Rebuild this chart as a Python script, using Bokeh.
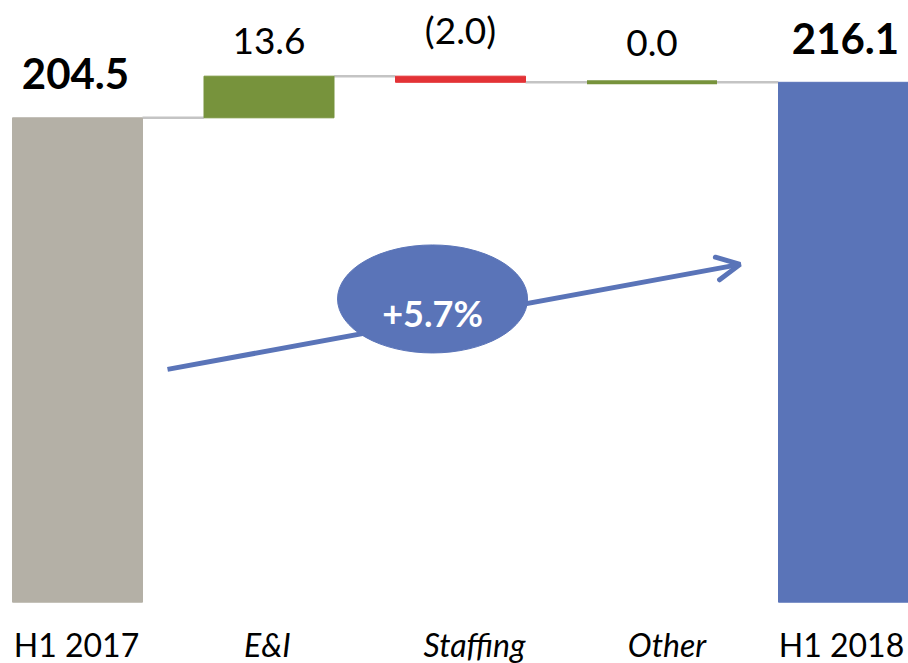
from bokeh.plotting import figure
from bokeh.models import ColumnDataSource, Range1d, Arrow, OpenHead
from bokeh.core.properties import value
from bokeh.embed import file_html
from bokeh.resources import INLINE

# ---- data -------------------------------------------------------------
categories = ["H1 2017", "E&I", "Staffing", "Other", "H1 2018"]
start_total = 204.5          # H1 2017
deltas = [13.6, -2.0, 0.0]   # E&I, Staffing, Other
end_total = 216.1            # H1 2018

# ---- styling ----------------------------------------------------------
W, H = 908, 663
FONT = "Lato"
GRAY = "#B4B0A6"
GREEN = "#77933C"
RED = "#E33236"
BLUE = "#5A74B8"
CONNECTOR = "#C4C4C4"

# horizontal scale: pixel centre of first category and category pitch
PITCH_PX = 191.5
FIRST_PX = 77.0
BAR_W = 130.0 / PITCH_PX

# vertical scale: value axis floor sits just above the category labels
PX_PER_UNIT = 3.06
FLOOR = 46.2
FLOOR_PX = 601.7
y_start = FLOOR - (H - FLOOR_PX) / PX_PER_UNIT
y_end = y_start + H / PX_PER_UNIT

# ---- waterfall geometry ----------------------------------------------
n = len(categories)
xs = list(range(n))
bottoms, tops, colors, line_w = [], [], [], []

bottoms.append(FLOOR); tops.append(start_total); colors.append(GRAY); line_w.append(1)
running = start_total
levels = [start_total]
for d in deltas:
    nxt = round(running + d, 1)
    bottoms.append(min(running, nxt))
    tops.append(max(running, nxt))
    colors.append(GREEN if d >= 0 else RED)
    line_w.append(4 if d == 0 else 1)
    running = nxt
    levels.append(running)
bottoms.append(FLOOR); tops.append(end_total); colors.append(BLUE); line_w.append(1)

bars = ColumnDataSource(dict(x=xs, bottom=bottoms, top=tops, color=colors, lw=line_w))

# connectors between neighbouring bars at the running total
conn = ColumnDataSource(dict(
    x0=[i + BAR_W / 2 for i in range(n - 1)],
    x1=[i + 1 - BAR_W / 2 for i in range(n - 1)],
    y=levels,
))

def fmt_delta(d):
    return f"({abs(d):.1f})" if d < 0 else f"{d:.1f}"

delta_lbl = ColumnDataSource(dict(
    x=[1, 2, 3],
    y=tops[1:4],
    text=[fmt_delta(d) for d in deltas],
    dy=[-35, -47, -39],
))
total_lbl = ColumnDataSource(dict(
    x=[0, n - 1],
    y=[start_total, end_total],
    text=[f"{start_total:.1f}", f"{end_total:.1f}"],
    dx=[-2, 2],
))
cat_lbl = ColumnDataSource(dict(
    x=xs,
    y=[y_start] * n,
    text=categories,
    style=["normal", "italic", "italic", "italic", "normal"],
    dx=[-1, -1.5, 14, 15, -2],
))

growth = (end_total / start_total - 1) * 100

# ---- figure -----------------------------------------------------------
p = figure(width=W, height=H, output_backend="svg", toolbar_location=None,
           x_range=Range1d(-FIRST_PX / PITCH_PX, (W - FIRST_PX) / PITCH_PX),
           y_range=Range1d(y_start, y_end),
           min_border=0, outline_line_color=None)
p.axis.visible = False
p.grid.visible = False
p.background_fill_color = "white"
p.border_fill_color = "white"

p.segment(x0="x0", y0="y", x1="x1", y1="y", source=conn,
          line_color=CONNECTOR, line_width=2.5)

p.vbar(x="x", bottom="bottom", top="top", width=BAR_W, source=bars,
       fill_color="color", line_color="color", line_width="lw")

p.text(x="x", y="y", text="text", source=delta_lbl, y_offset="dy",
       text_align="center", text_baseline="alphabetic",
       text_font=value(FONT), text_font_size="37px", text_color="black")
p.text(x="x", y="y", text="text", source=total_lbl, x_offset="dx", y_offset=-44,
       text_align="center", text_baseline="alphabetic",
       text_font=value(FONT), text_font_size="42px", text_font_style="bold",
       text_color="black")
p.text(x="x", y="y", text="text", source=cat_lbl, x_offset="dx", y_offset=-19,
       text_align="center", text_baseline="alphabetic",
       text_font=value(FONT), text_font_size="32px", text_font_style="style",
       text_color="black")

# growth arrow with the percentage badge on top of it
arrow = Arrow(x_start=0.47, y_start=122.3, x_end=3.46, y_end=156.6,
              line_color=BLUE, line_width=5,
              end=OpenHead(size=23, line_color=BLUE, line_width=5, line_cap="round"),
              level="underlay")
p.add_layout(arrow)

badge = ColumnDataSource(dict(x=[1.854], y=[145.3], text=[f"+{growth:.1f}%"]))
p.ellipse(x="x", y="y", width=190, height=108, width_units="screen",
          height_units="screen", source=badge, fill_color=BLUE, line_color=BLUE)
p.text(x="x", y="y", text="text", source=badge, y_offset=14,
       text_align="center", text_baseline="alphabetic",
       text_font=value(FONT), text_font_size="36px", text_font_style="bold",
       text_color="white")

open("out.html", "w").write(file_html(p, INLINE))
